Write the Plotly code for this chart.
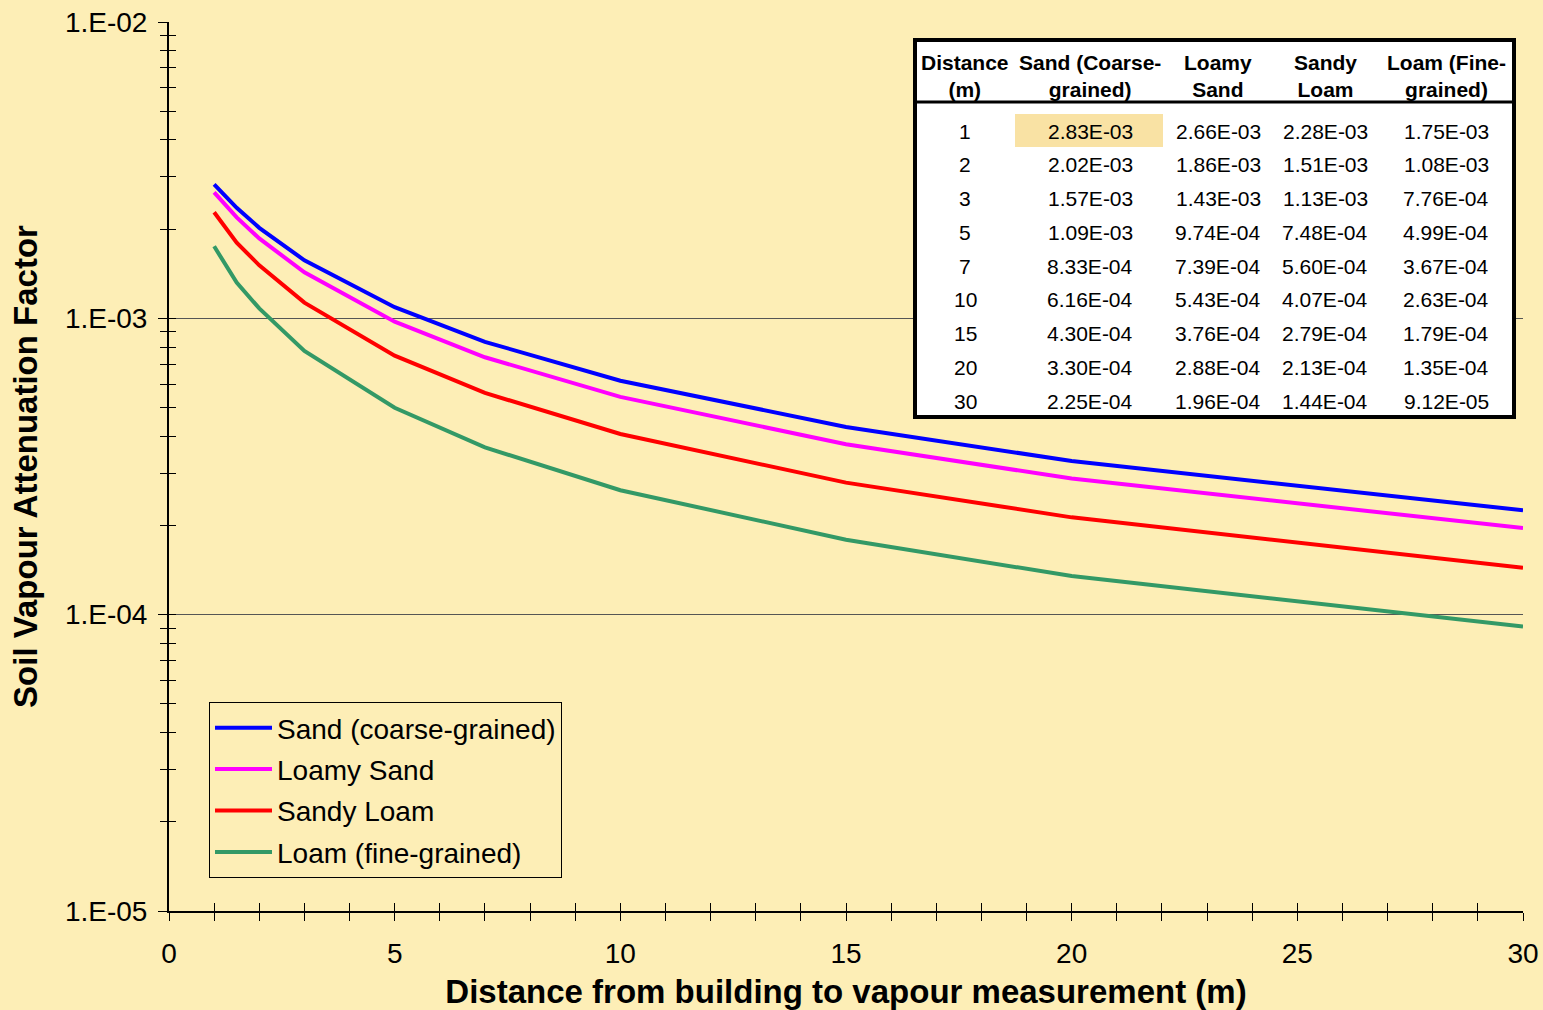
import plotly.graph_objects as go

# ---------------- data ----------------
distance = [1, 1.5, 2, 3, 5, 7, 10, 15, 20, 30]
sand = [2.83e-3, 2.36e-3, 2.02e-3, 1.57e-3, 1.09e-3, 8.33e-4, 6.16e-4, 4.30e-4, 3.30e-4, 2.25e-4]
loamy_sand = [2.66e-3, 2.19e-3, 1.86e-3, 1.43e-3, 9.74e-4, 7.39e-4, 5.43e-4, 3.76e-4, 2.88e-4, 1.96e-4]
sandy_loam = [2.28e-3, 1.80e-3, 1.51e-3, 1.13e-3, 7.48e-4, 5.60e-4, 4.07e-4, 2.79e-4, 2.13e-4, 1.44e-4]
loam = [1.75e-3, 1.32e-3, 1.08e-3, 7.76e-4, 4.99e-4, 3.67e-4, 2.63e-4, 1.79e-4, 1.35e-4, 9.12e-5]

series_names = ["Sand (coarse-grained)", "Loamy Sand", "Sandy Loam", "Loam (fine-grained)"]
series_values = [sand, loamy_sand, sandy_loam, loam]
series_colors = ["#0000FF", "#FF00FF", "#FF0000", "#339966"]

table_headers = ["Distance<br>(m)", "Sand (Coarse-<br>grained)", "Loamy<br>Sand", "Sandy<br>Loam", "Loam (Fine-<br>grained)"]
table_distances = [1, 2, 3, 5, 7, 10, 15, 20, 30]

y_tick_vals = [1e-5, 1e-4, 1e-3, 1e-2]
y_tick_text = ["1.E-05", "1.E-04", "1.E-03", "1.E-02"]

# ---------------- layout constants ----------------
W, H = 1543, 1010
ML, MR, MT, MB = 169, 20, 22, 99
PW, PH = W - ML - MR, H - MT - MB
BG = "#FDEEB6"
HILITE = "#F9E2A4"
FONT = "Arial, Liberation Sans, sans-serif"


def px_x(p):
    return (p - ML) / PW


def px_y(p):
    return (H - MB - p) / PH


fig = go.Figure()
for name, vals, col in zip(series_names, series_values, series_colors):
    fig.add_trace(go.Scatter(x=distance, y=vals, mode="lines", name=name,
                             line=dict(color=col, width=4), legendgroup=name))

# empty helper trace so the overlay axes (inside tick halves) get drawn
fig.add_trace(go.Scatter(x=[], y=[], xaxis="x2", yaxis="y2", showlegend=False, hoverinfo="skip"))

minor_y = [k * 10.0 ** e for e in (-5, -4, -3) for k in range(2, 10)]

shapes = []
annotations = []

# table box
tx0, tx1, ty0, ty1 = 915, 1514, 40, 417
shapes.append(dict(type="rect", xref="paper", yref="paper", layer="above",
                   x0=px_x(tx0), x1=px_x(tx1), y0=px_y(ty1), y1=px_y(ty0),
                   fillcolor="white", line=dict(color="black", width=4)))
shapes.append(dict(type="line", xref="paper", yref="paper", layer="above",
                   x0=px_x(tx0), x1=px_x(tx1), y0=px_y(102), y1=px_y(102),
                   line=dict(color="black", width=3)))
# highlighted cell
shapes.append(dict(type="rect", xref="paper", yref="paper", layer="above",
                   x0=px_x(1015), x1=px_x(1163), y0=px_y(147), y1=px_y(114),
                   fillcolor=HILITE, line=dict(width=0)))

col_centers = [965, 1090, 1218, 1325, 1446]
for cx, htxt in zip(col_centers, table_headers):
    annotations.append(dict(xref="paper", yref="paper", x=px_x(cx), y=px_y(76),
                            text="<b>" + htxt + "</b>", showarrow=False,
                            font=dict(size=21, color="black", family=FONT),
                            xanchor="center", yanchor="middle"))

row_idx = [distance.index(d) for d in table_distances]
for r, (d, i) in enumerate(zip(table_distances, row_idx)):
    ry = 131 + r * 33.75
    cells = [str(d)] + ["%.2E" % v[i] for v in series_values]
    for cx, ctxt in zip(col_centers, cells):
        annotations.append(dict(xref="paper", yref="paper", x=px_x(cx), y=px_y(ry),
                                text=ctxt, showarrow=False,
                                font=dict(size=21, color="black", family=FONT),
                                xanchor="center", yanchor="middle"))

fig.update_layout(
    template="none",
    width=W, height=H,
    margin=dict(l=ML, r=MR, t=MT, b=MB, pad=0, autoexpand=False),
    paper_bgcolor=BG, plot_bgcolor=BG,
    font=dict(family=FONT, color="black", size=28),
    showlegend=True,
    hovermode=False,
    legend=dict(x=px_x(209), y=px_y(702), xanchor="left", yanchor="top",
                bgcolor=BG, bordercolor="black", borderwidth=1,
                font=dict(size=28, family=FONT), traceorder="grouped",
                tracegroupgap=2, itemwidth=57),
    xaxis=dict(range=[0, 30], dtick=5, tick0=0, ticks="outside", ticklen=8,
               tickcolor="black", tickwidth=1, showgrid=False, zeroline=False,
               showline=True, linecolor="black", linewidth=2, automargin=False,
               tickfont=dict(size=28), ticklabelstandoff=8,
               minor=dict(dtick=1, ticks="outside", ticklen=8, tickcolor="black", showgrid=False),
               title=dict(text="<b>Distance from building to vapour measurement (m)</b>",
                          font=dict(size=33), standoff=14)),
    xaxis2=dict(range=[0, 30], overlaying="x", anchor="y", side="bottom", dtick=1,
                ticks="inside", ticklen=8, tickcolor="black", showticklabels=False,
                showgrid=False, zeroline=False, showline=False, automargin=False),
    yaxis=dict(type="log", range=[-5, -2], tickmode="array", tickvals=y_tick_vals,
               ticktext=y_tick_text, ticks="outside", ticklen=9, tickcolor="black",
               showgrid=True, gridcolor="#555555", gridwidth=1, zeroline=False,
               showline=True, linecolor="black", linewidth=2, automargin=False,
               tickfont=dict(size=28), ticklabelstandoff=5,
               minor=dict(tickmode="array", tickvals=minor_y, ticks="outside", ticklen=7,
                          tickcolor="black", showgrid=False),
               title=dict(text="<b>Soil Vapour Attenuation Factor</b>",
                          font=dict(size=33), standoff=17)),
    yaxis2=dict(type="log", range=[-5, -2], overlaying="y", anchor="x", side="left",
                tickmode="array", tickvals=minor_y + y_tick_vals, ticks="inside", ticklen=7,
                tickcolor="black", showticklabels=False, showgrid=False,
                zeroline=False, showline=False, automargin=False),
    shapes=shapes,
    annotations=annotations,
)

fig.write_html("out.html", config={"displayModeBar": False},
               post_script="document.body.style.margin='0px';document.body.style.overflow='hidden';")
